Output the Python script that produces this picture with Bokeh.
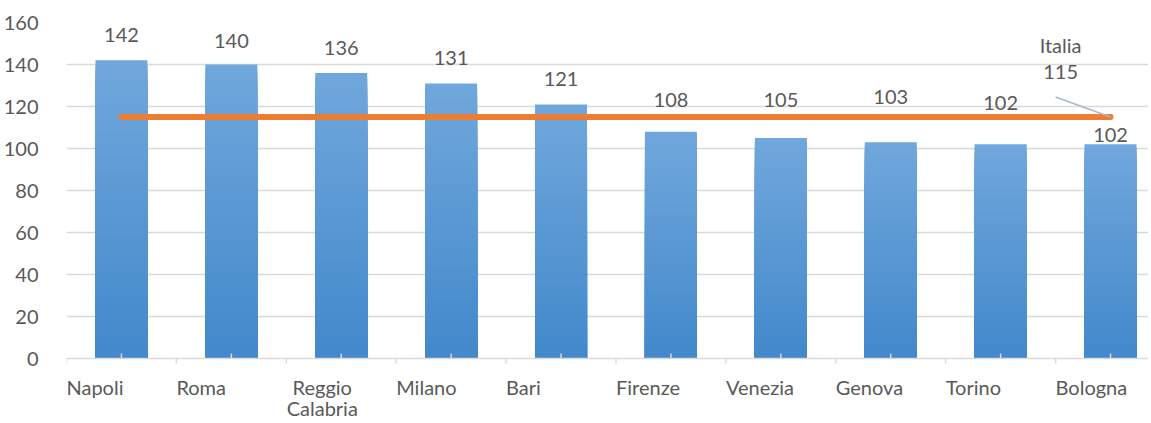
import numpy as np
from bokeh.plotting import figure
from bokeh.models import Range1d, FixedTicker, Label, ColumnDataSource
from bokeh.embed import file_html
from bokeh.resources import INLINE
from bokeh.core.properties import value

# ---- data ----
cities = ["Napoli", "Roma", "Reggio\nCalabria", "Milano", "Bari", "Firenze",
          "Venezia", "Genova", "Torino", "Bologna"]
values = [142, 140, 136, 131, 121, 108, 105, 103, 102, 102]
italia_name = "Italia"
italia_value = 115
y_ticks = [0, 20, 40, 60, 80, 100, 120, 140, 160]

# ---- style ----
label_lift_px = [25, 24, 25, 25, 25, 32, 38, 45, 41, 9]  # manual label placement as in the original
FONT = "Lato"
FS = "20px"
TXT = "#595959"
GRID = "#d9d9d9"
TOP_RGB = np.array([113, 168, 221])
BOT_RGB = np.array([67, 137, 203])

W, H = 1148, 420
BL, BT = 65, 22
px_per_unit = 2.1            # 336 px for 0..160
px_per_cat = 110
frame_h = H - BT
y_end = y_ticks[-1]
y_start = y_end - frame_h / px_per_unit
n = len(cities)
centers = np.arange(n) + 0.5
bar_w = 52 / px_per_cat
x_end = (W - BL) / px_per_cat

p = figure(width=W, height=H, output_backend="svg", toolbar_location=None,
           x_range=Range1d(0, x_end), y_range=Range1d(y_start, y_end),
           x_axis_location=None,
           min_border_left=BL, min_border_right=0, min_border_top=BT, min_border_bottom=0)
p.outline_line_color = None
p.background_fill_color = "white"
p.border_fill_color = "white"

# gradient bars: overlapping layers, tallest (lightest) first
N = 60
l, r, t, c = [], [], [], []
for i, v in enumerate(values):
    for k in range(N, 0, -1):
        f = (k - 0.5) / N
        rgb = (BOT_RGB + (TOP_RGB - BOT_RGB) * f).astype(int)
        l.append(centers[i] - bar_w / 2)
        r.append(centers[i] + bar_w / 2)
        t.append(v * k / N)
        c.append("#%02x%02x%02x" % tuple(rgb))
p.quad(left=l, right=r, bottom=0, top=t, fill_color=c, line_color=None)

# x axis drawn at y=0 (line, boundary ticks down, centre ticks up)
tick = 5 / px_per_unit
p.segment(x0=[0], y0=[0], x1=[x_end], y1=[0], line_color=GRID, line_width=1.5)
bounds = [b for b in range(n + 1) if b <= x_end]
p.segment(x0=bounds, y0=[0] * len(bounds), x1=bounds, y1=[-tick] * len(bounds),
          line_color=GRID, line_width=1.5)
p.segment(x0=centers, y0=[0] * n, x1=centers, y1=[tick] * n, line_color=GRID, line_width=1.5)

# value labels
src = ColumnDataSource(dict(x=centers, y=values, text=[str(v) for v in values],
                            yo=[-o for o in label_lift_px]))
p.text(x="x", y="y", text="text", y_offset="yo", source=src,
       text_align="center", text_baseline="middle", text_font=value(FONT),
       text_font_size=FS, text_color=TXT)

# Italia line
p.line(x=centers, y=[italia_value] * n, line_color="#ED7D31", line_width=6, line_cap="round")

# leader line + label
p.line(x=[centers[-1] - 55 / px_per_cat, centers[-1]],
       y=[italia_value + 20 / px_per_unit, italia_value],
       line_color="#a9b9cc", line_width=1.5)
for txt, dy in [(italia_name, 72), (str(italia_value), 45)]:
    p.add_layout(Label(x=centers[-1] - 50 / px_per_cat, y=italia_value + dy / px_per_unit,
                       text=txt, text_align="center", text_baseline="middle",
                       text_font=FONT, text_font_size=FS, text_color=TXT))

# category labels, left aligned at category boundaries
cx, cy, ctext, calign = [], [], [], []
for i, name in enumerate(cities):
    lines = name.split("\n")
    if len(lines) == 1:
        cx.append(i); cy.append(-28 / px_per_unit); ctext.append(name); calign.append("left")
    else:
        for j, ln in enumerate(lines):
            cx.append(i + 36 / px_per_cat); cy.append(-(28 + 21 * j) / px_per_unit)
            ctext.append(ln); calign.append("center")
p.text(x=cx, y=cy, text=ctext, text_align=calign, text_baseline="middle",
       text_font=value(FONT), text_font_size=FS, text_color=TXT)

# y axis
ya = p.yaxis[0]
ya.ticker = FixedTicker(ticks=y_ticks)
ya.axis_line_color = None
ya.major_tick_line_color = None
ya.minor_tick_line_color = None
ya.major_label_standoff = 22
ya.major_label_text_font = FONT
ya.major_label_text_font_size = FS
ya.major_label_text_color = TXT

p.xgrid.grid_line_color = None
p.ygrid.ticker = FixedTicker(ticks=y_ticks[1:])
p.ygrid.grid_line_color = GRID
p.ygrid.grid_line_width = 1.5

open("out.html", "w").write(file_html(p, INLINE))
